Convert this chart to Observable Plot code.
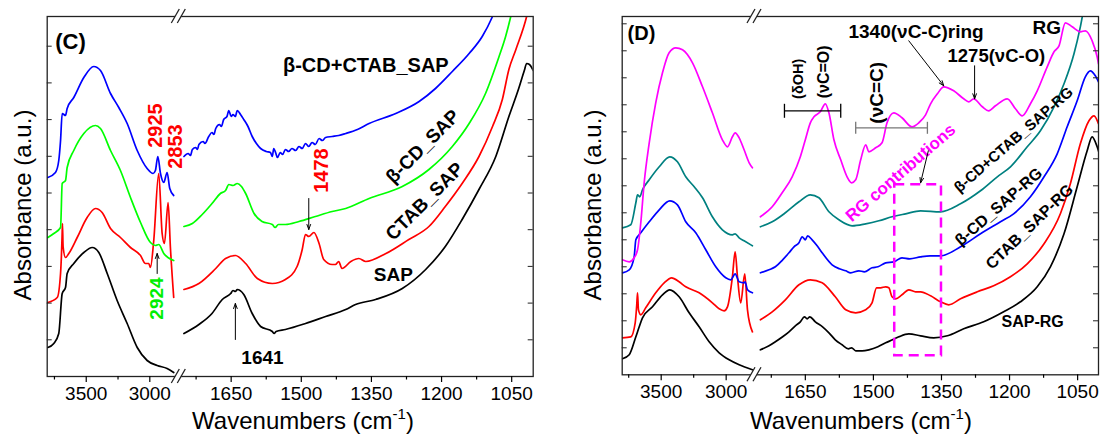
<!DOCTYPE html>
<html><head><meta charset="utf-8">
<script src="https://cdn.jsdelivr.net/npm/d3@7"></script>
<script src="https://cdn.jsdelivr.net/npm/@observablehq/plot@0.6"></script>
<style>
body{margin:0;background:#fff;}
#wrap{position:relative;width:1100px;height:436px;overflow:hidden;}
#c,#d{position:absolute;top:0;}
#c{left:0;} #d{left:560px;}
</style></head><body><div id="wrap"><div id="c"></div><div id="d"></div></div>
<script>
// ---------- tick values (cm-1) ----------
const xMajor = [3500, 3000, 1650, 1500, 1350, 1200, 1050];
const xMinor = [3750, 3250, 1725, 1575, 1425, 1275, 1125];

// ---------- Panel C spectra: [wavenumber, absorbance a.u.] ----------
const cBlueL = [[3802,1.99],[3742,2.04],[3716,2.16],[3702,2.36],[3689,2.63],[3663,2.61],[3650,2.68],[3598,2.79],[3519,2.99],[3441,3.10],[3388,3.06],[3309,2.83],[3244,2.69],[3178,2.53],[3099,2.26],[3021,2.08],[2974,2.03],[2956,2.06],[2937,2.20],[2916,2.03],[2890,1.94],[2864,2.04],[2843,1.88],[2812,1.81]];
const cBlueR = [[1751,2.20],[1742,2.23],[1737,2.21],[1733,2.27],[1726,2.29],[1722,2.27],[1719,2.32],[1710,2.35],[1706,2.33],[1698,2.40],[1691,2.44],[1687,2.42],[1683,2.48],[1675,2.52],[1671,2.50],[1666,2.57],[1659,2.60],[1655,2.66],[1650,2.60],[1646,2.62],[1641,2.60],[1637,2.66],[1630,2.62],[1623,2.57],[1614,2.50],[1605,2.40],[1596,2.33],[1587,2.28],[1575,2.25],[1566,2.24],[1562,2.20],[1559,2.28],[1555,2.24],[1551,2.19],[1545,2.24],[1540,2.22],[1534,2.27],[1527,2.25],[1520,2.28],[1512,2.26],[1505,2.30],[1498,2.28],[1491,2.33],[1484,2.30],[1477,2.34],[1470,2.32],[1462,2.38],[1455,2.36],[1448,2.39],[1434,2.40],[1420,2.41],[1405,2.43],[1380,2.47],[1355,2.53],[1298,2.63],[1248,2.75],[1213,2.88],[1177,3.05],[1141,3.23],[1113,3.40],[1091,3.60],[1060,4.0],[1004,4.5]];
const cGreenL = [[3802,1.39],[3755,1.43],[3702,1.49],[3689,1.93],[3663,1.96],[3650,2.09],[3598,2.26],[3519,2.43],[3427,2.51],[3388,2.48],[3309,2.26],[3231,2.06],[3152,1.79],[3073,1.54],[2995,1.34],[2956,1.31],[2930,1.32],[2890,1.23],[2812,1.16]];
const cGreenR = [[1751,1.50],[1733,1.53],[1712,1.62],[1691,1.73],[1673,1.83],[1662,1.86],[1655,1.92],[1646,1.91],[1637,1.93],[1628,1.90],[1619,1.83],[1601,1.63],[1584,1.55],[1562,1.52],[1556,1.49],[1549,1.52],[1534,1.52],[1505,1.55],[1470,1.60],[1434,1.65],[1405,1.68],[1355,1.78],[1284,1.90],[1227,2.07],[1177,2.30],[1141,2.53],[1106,2.83],[1077,3.20],[1063,3.40],[1052,3.60],[1030,4.1]];
const cRedL = [[3802,0.74],[3728,0.79],[3702,1.03],[3690,1.40],[3687,1.53],[3682,1.30],[3663,1.19],[3637,1.23],[3571,1.39],[3493,1.59],[3427,1.68],[3375,1.64],[3309,1.48],[3231,1.39],[3152,1.29],[3073,1.21],[3034,1.13],[3008,1.13],[2995,1.09],[2969,1.36],[2930,2.03],[2903,1.43],[2885,1.33],[2856,1.74],[2838,1.29],[2812,0.79]];
const cRedR = [[1751,0.87],[1719,0.93],[1683,1.08],[1662,1.18],[1641,1.21],[1619,1.13],[1594,0.98],[1562,0.93],[1534,0.97],[1509,1.10],[1498,1.27],[1491,1.42],[1484,1.40],[1473,1.44],[1462,1.33],[1452,1.17],[1434,1.12],[1427,1.12],[1420,1.15],[1413,1.08],[1394,1.15],[1377,1.18],[1362,1.15],[1319,1.23],[1270,1.37],[1227,1.50],[1192,1.70],[1156,1.93],[1120,2.20],[1091,2.50],[1070,2.77],[1056,3.07],[1041,3.27],[1018,3.60],[1004,3.9]];
const cBlackL = [[3802,0.29],[3755,0.33],[3716,0.43],[3689,0.83],[3663,0.89],[3650,1.03],[3598,1.13],[3519,1.24],[3453,1.29],[3401,1.24],[3335,1.03],[3257,0.76],[3178,0.53],[3099,0.29],[3021,0.16],[2942,0.11],[2864,0.08],[2812,0.04]];
const cBlackR = [[1751,0.43],[1719,0.52],[1691,0.63],[1669,0.77],[1651,0.83],[1646,0.86],[1641,0.85],[1637,0.87],[1623,0.82],[1605,0.63],[1587,0.50],[1562,0.45],[1558,0.43],[1554,0.45],[1534,0.47],[1491,0.53],[1448,0.60],[1405,0.67],[1384,0.72],[1341,0.77],[1284,0.88],[1234,1.07],[1192,1.30],[1156,1.57],[1120,1.87],[1084,2.20],[1056,2.60],[1035,2.88],[1023,3.06],[1018,3.13],[1012,3.12],[1004,3.06]];

// ---------- Panel D spectra ----------
const dMagL = [[3798,1.15],[3746,1.13],[3708,1.17],[3682,1.25],[3657,1.52],[3631,1.92],[3592,2.32],[3542,2.72],[3490,3.02],[3439,3.22],[3388,3.27],[3336,3.25],[3259,3.12],[3182,2.88],[3106,2.62],[3029,2.35],[2990,2.28],[2952,2.38],[2931,2.42],[2900,2.37],[2862,2.25],[2823,2.12],[2798,2.07]];
const dMagR = [[1749,1.58],[1723,1.68],[1701,1.82],[1679,1.98],[1661,2.18],[1650,2.35],[1639,2.52],[1631,2.58],[1617,2.63],[1606,2.71],[1598,2.62],[1587,2.35],[1572,2.15],[1558,1.98],[1548,1.92],[1539,1.95],[1528,2.15],[1517,2.30],[1510,2.23],[1495,2.27],[1481,2.32],[1470,2.52],[1455,2.62],[1437,2.57],[1415,2.48],[1400,2.52],[1385,2.60],[1374,2.71],[1359,2.81],[1345,2.88],[1323,2.84],[1301,2.76],[1290,2.73],[1279,2.76],[1260,2.68],[1246,2.64],[1231,2.69],[1205,2.76],[1187,2.66],[1172,2.59],[1154,2.71],[1139,2.84],[1117,3.08],[1102,3.23],[1091,3.29],[1077,3.52],[1062,3.48],[1044,3.43],[1033,3.44],[1018,3.34],[1007,3.18],[1004,3.11]];
const dTealL = [[3798,1.47],[3734,1.50],[3695,1.72],[3682,1.80],[3665,1.78],[3644,1.85],[3592,1.95],[3515,2.08],[3434,2.18],[3375,2.13],[3311,1.98],[3246,1.88],[3182,1.77],[3106,1.58],[3029,1.45],[2952,1.40],[2931,1.41],[2900,1.37],[2862,1.34],[2798,1.29]];
const dTealR = [[1749,1.48],[1723,1.53],[1694,1.62],[1664,1.73],[1639,1.80],[1620,1.77],[1598,1.63],[1576,1.55],[1547,1.49],[1517,1.51],[1488,1.54],[1459,1.58],[1429,1.61],[1396,1.64],[1352,1.63],[1308,1.71],[1264,1.84],[1227,1.98],[1198,2.08],[1161,2.28],[1132,2.44],[1102,2.68],[1080,2.91],[1058,3.21],[1044,3.48],[1033,3.74],[1010,4.14]];
const dBlueL = [[3798,1.02],[3746,1.05],[3708,1.18],[3695,1.35],[3657,1.42],[3592,1.53],[3515,1.65],[3434,1.74],[3375,1.70],[3311,1.53],[3234,1.42],[3157,1.25],[3080,1.08],[3003,0.97],[2965,0.95],[2931,1.01],[2900,0.93],[2862,0.92],[2854,0.93],[2836,0.85],[2798,0.82]];
const dBlueR = [[1749,1.02],[1730,1.05],[1716,1.08],[1700,1.15],[1686,1.22],[1675,1.28],[1664,1.32],[1657,1.38],[1650,1.35],[1645,1.39],[1635,1.35],[1624,1.29],[1613,1.22],[1591,1.10],[1575,1.06],[1561,1.04],[1550,1.02],[1532,1.04],[1520,1.03],[1503,1.07],[1490,1.08],[1473,1.12],[1455,1.13],[1437,1.17],[1420,1.16],[1396,1.18],[1375,1.19],[1352,1.19],[1308,1.28],[1264,1.41],[1220,1.53],[1191,1.61],[1154,1.78],[1124,1.98],[1095,2.21],[1073,2.48],[1051,2.74],[1033,2.98],[1022,3.04],[1011,2.99],[1004,2.93]];
const dRedL = [[3798,0.37],[3734,0.38],[3700,0.52],[3688,0.70],[3682,0.82],[3675,0.65],[3657,0.60],[3619,0.67],[3542,0.82],[3477,0.92],[3419,0.97],[3362,0.93],[3311,0.88],[3208,0.82],[3106,0.72],[3054,0.66],[3016,0.64],[2990,0.68],[2952,0.98],[2931,1.23],[2913,0.98],[2888,0.72],[2857,1.01],[2836,0.65],[2798,0.43]];
const dRedR = [[1749,0.55],[1723,0.63],[1694,0.75],[1664,0.90],[1639,0.95],[1613,0.92],[1584,0.78],[1561,0.65],[1539,0.62],[1517,0.65],[1503,0.72],[1493,0.87],[1484,0.87],[1473,0.88],[1466,0.87],[1459,0.78],[1451,0.76],[1437,0.80],[1422,0.85],[1407,0.83],[1396,0.83],[1374,0.79],[1352,0.73],[1334,0.70],[1308,0.76],[1271,0.83],[1235,0.89],[1198,0.98],[1161,1.11],[1124,1.31],[1088,1.61],[1066,1.91],[1044,2.31],[1025,2.54],[1014,2.59],[1004,2.51]];
const dBlackL = [[3798,0.16],[3746,0.20],[3695,0.38],[3669,0.48],[3644,0.57],[3567,0.68],[3490,0.80],[3434,0.85],[3362,0.78],[3285,0.62],[3208,0.48],[3131,0.33],[3054,0.22],[2977,0.15],[2900,0.10],[2798,0.05]];
const dBlackR = [[1749,0.25],[1730,0.29],[1716,0.33],[1700,0.38],[1686,0.43],[1672,0.49],[1661,0.53],[1652,0.58],[1646,0.56],[1640,0.58],[1628,0.53],[1612,0.48],[1598,0.42],[1584,0.35],[1569,0.30],[1555,0.26],[1548,0.27],[1539,0.24],[1525,0.24],[1510,0.25],[1490,0.28],[1473,0.32],[1458,0.35],[1444,0.38],[1422,0.41],[1396,0.39],[1367,0.37],[1337,0.39],[1301,0.46],[1257,0.53],[1213,0.63],[1176,0.73],[1139,0.88],[1110,1.08],[1080,1.41],[1051,1.88],[1029,2.24],[1018,2.38],[1007,2.28],[1002,2.21]];

// ---------- annotation texts ----------
const cTexts = [
  {t:"(C)", w:3624, a:3.35, size:22, rot:0, color:"#000"},
  {t:"β-CD+CTAB_SAP", w:1362, a:3.11, size:20, rot:0, color:"#000"},
  {t:"2925", w:2956, a:2.51, size:20, rot:-90, color:"#ff0000"},
  {t:"2853", w:2798, a:2.30, size:20, rot:-90, color:"#ff0000"},
  {t:"1478", w:1457, a:2.06, size:20, rot:-90, color:"#ff0000"},
  {t:"β-CD_SAP", w:1240, a:2.30, size:19, rot:-45, color:"#000"},
  {t:"CTAB_SAP", w:1236, a:1.75, size:19, rot:-45, color:"#000"},
  {t:"SAP", w:1303, a:1.02, size:19, rot:0, color:"#000"},
  {t:"2924", w:2942, a:0.78, size:19, rot:-90, color:"#00ee00"},
  {t:"1641", w:1583, a:0.19, size:19, rot:0, color:"#000"}
];
const cArrows = [
  {x1:1484, y1:1.78, x2:1484, y2:1.47},
  {x1:2942, y1:1.03, x2:2942, y2:1.23},
  {x1:1641, y1:0.37, x2:1641, y2:0.73}
];
const dTexts = [
  {t:"(D)", w:3652, a:3.41, size:20, rot:0, color:"#000"},
  {t:"1340(νC-C)ring", w:1406, a:3.43, size:19, rot:0, color:"#000"},
  {t:"1275(νC-O)", w:1229, a:3.19, size:18.5, rot:0, color:"#000"},
  {t:"RG", w:1118, a:3.47, size:19, rot:0, color:"#000"},
  {t:"(δOH)", w:1665, a:2.96, size:14.5, rot:-90, color:"#000"},
  {t:"(νC=O)", w:1610, a:3.03, size:16, rot:-90, color:"#000"},
  {t:"(νC=C)", w:1492, a:2.82, size:19, rot:-90, color:"#000"},
  {t:"RG contributions", w:1440, a:2.02, size:17, rot:-41, color:"#ff00ff"},
  {t:"β-CD+CTAB_SAP-RG", w:1191, a:2.35, size:15, rot:-41, color:"#000"},
  {t:"β-CD_SAP-RG", w:1224, a:1.68, size:16, rot:-41, color:"#000"},
  {t:"CTAB_SAP-RG", w:1156, a:1.48, size:16, rot:-44, color:"#000"},
  {t:"SAP-RG", w:1149, a:0.53, size:16, rot:0, color:"#000"}
];
const dArrows = [
  {x1:1422, y1:3.34, x2:1345, y2:2.89},
  {x1:1277, y1:3.09, x2:1277, y2:2.76},
  {x1:1379, y1:2.24, x2:1396, y2:1.92}
];
const dBrackets = [
  {x1:1696, x2:1572, y:2.64, h:0.07, color:"#000"},
  {x1:1539, x2:1381, y:2.47, h:0.06, color:"#777"}
];
const dBox = [{x1:1453, x2:1350, y1:0.19, y2:1.90}];

const FONT = "'Liberation Sans', Arial, Helvetica, sans-serif";

function rows(L, R) {
  return [...L.map(([w, a]) => ({w, a, s: "L"})), ...R.map(([w, a]) => ({w, a, s: "R"}))];
}
function lineMarks(series) {
  return series.map(s => Plot.line(rows(s.L, s.R), {x: "w", y: "a", z: "s", stroke: s.color, strokeWidth: 1.7, curve: "monotone-x", clip: true}));
}
function textMarks(list) {
  return list.map(d => Plot.text([d], {x: "w", y: "a", text: "t", rotate: d.rot, fontSize: d.size, fontWeight: "bold", fill: d.color, fontFamily: FONT}));
}
function arrowMarks(list) {
  return Plot.arrow(list, {x1: "x1", y1: "y1", x2: "x2", y2: "y2", stroke: "#000", strokeWidth: 1, headLength: 8, headAngle: 40});
}

function panel({el, width, mL, mR, mB, yMax, domain, range, series, texts, arrows, extra, yTickStep, xLabelX, yLabelX}) {
  const fw = width - mL - mR;
  const yTicks = d3.range(yTickStep, yMax - 0.01, yTickStep);
  const svg = Plot.plot({
    width, height: 436,
    marginLeft: mL, marginRight: mR, marginTop: 16, marginBottom: mB,
    style: {fontFamily: FONT, fontSize: "19px", color: "#000", background: "#fff", overflow: "visible"},
    x: {type: "linear", domain, range, axis: null},
    y: {domain: [0, yMax], axis: null},
    marks: [
      ...lineMarks(series),
      ...(extra || []),
      Plot.tickY(yTicks, {y: d => d, insetRight: fw - 5, stroke: "#222", strokeWidth: 1}),
      Plot.tickY(yTicks, {y: d => d, insetLeft: fw - 5, stroke: "#222", strokeWidth: 1}),
      Plot.frame({stroke: "#222", strokeWidth: 1.3}),
      Plot.axisX(xMajor, {tickSize: 6, tickPadding: 4, tickFormat: "d", fontSize: 19, label: null, strokeWidth: 1.2}),
      Plot.axisX(xMinor, {tickSize: 3.5, tickFormat: () => "", label: null, strokeWidth: 1.2}),
      ...textMarks(texts),
      arrowMarks(arrows)
    ]
  });
  const sx = svg.scale("x"), sy = svg.scale("y");
  const g = d3.select(svg).append("g");
  const bx = (sx.apply(domain[1]) + sx.apply(domain[2])) / 2;
  [sy.apply(yMax), sy.apply(0)].forEach(y => {
    const h = 7, w = 4, gap = 3;
    g.append("polygon")
      .attr("points", `${bx-gap-w},${y+h} ${bx-gap+w},${y-h} ${bx+gap+w},${y-h} ${bx+gap-w},${y+h}`)
      .attr("fill", "#fff");
    [-gap, gap].forEach(o => g.append("line")
      .attr("x1", bx + o - w).attr("y1", y + h).attr("x2", bx + o + w).attr("y2", y - h)
      .attr("stroke", "#222").attr("stroke-width", 1.3));
  });
  const xl = g.append("text").attr("x", xLabelX).attr("y", 429).attr("text-anchor", "middle")
    .attr("font-family", FONT).attr("font-size", 24).attr("fill", "#000");
  xl.append("tspan").text("Wavenumbers (cm");
  xl.append("tspan").attr("dy", -10).attr("font-size", 15).text("-1");
  xl.append("tspan").attr("dy", 10).text(")");
  g.append("text").attr("transform", `translate(${yLabelX},205) rotate(-90)`).attr("text-anchor", "middle")
    .attr("font-family", FONT).attr("font-size", 24).attr("fill", "#000").text("Absorbance (a.u.)");
  document.getElementById(el).appendChild(svg);
}

panel({
  el: "c", width: 560, mL: 46.7, mR: 27.3, mB: 60, yMax: 3.6,
  domain: [3807, 2772, 1762, 1004], range: [46.7, 178.3, 178.3, 532.7],
  series: [
    {L: cBlackL, R: cBlackR, color: "#000000"},
    {L: cRedL, R: cRedR, color: "#ff0000"},
    {L: cGreenL, R: cGreenR, color: "#00ff00"},
    {L: cBlueL, R: cBlueR, color: "#0000ff"}
  ],
  texts: cTexts, arrows: cArrows, yTickStep: 0.367, xLabelX: 303, yLabelX: 31
});

panel({
  el: "d", width: 540, mL: 61.7, mR: 2, mB: 61.7, yMax: 3.583,
  domain: [3800, 2782, 1762, 1004], range: [61.7, 194, 194, 538],
  series: [
    {L: dBlackL, R: dBlackR, color: "#000000"},
    {L: dRedL, R: dRedR, color: "#ff0000"},
    {L: dBlueL, R: dBlueR, color: "#0000ff"},
    {L: dTealL, R: dTealR, color: "#008080"},
    {L: dMagL, R: dMagR, color: "#ff00ff"}
  ],
  texts: dTexts, arrows: dArrows, yTickStep: 0.27, xLabelX: 301, yLabelX: 41,
  extra: [
    Plot.rect(dBox, {x1: "x1", x2: "x2", y1: "y1", y2: "y2", fill: "none", stroke: "#ff00ff", strokeWidth: 2.5, strokeDasharray: "10,6"}),
    Plot.link(dBrackets, {x1: "x1", x2: "x2", y1: "y", y2: "y", stroke: "color", strokeWidth: 1.3}),
    Plot.link(dBrackets, {x1: "x1", x2: "x1", y1: d => d.y - d.h, y2: d => d.y + d.h, stroke: "color", strokeWidth: 1.3}),
    Plot.link(dBrackets, {x1: "x2", x2: "x2", y1: d => d.y - d.h, y2: d => d.y + d.h, stroke: "color", strokeWidth: 1.3})
  ]
});
</script>
</body></html>
